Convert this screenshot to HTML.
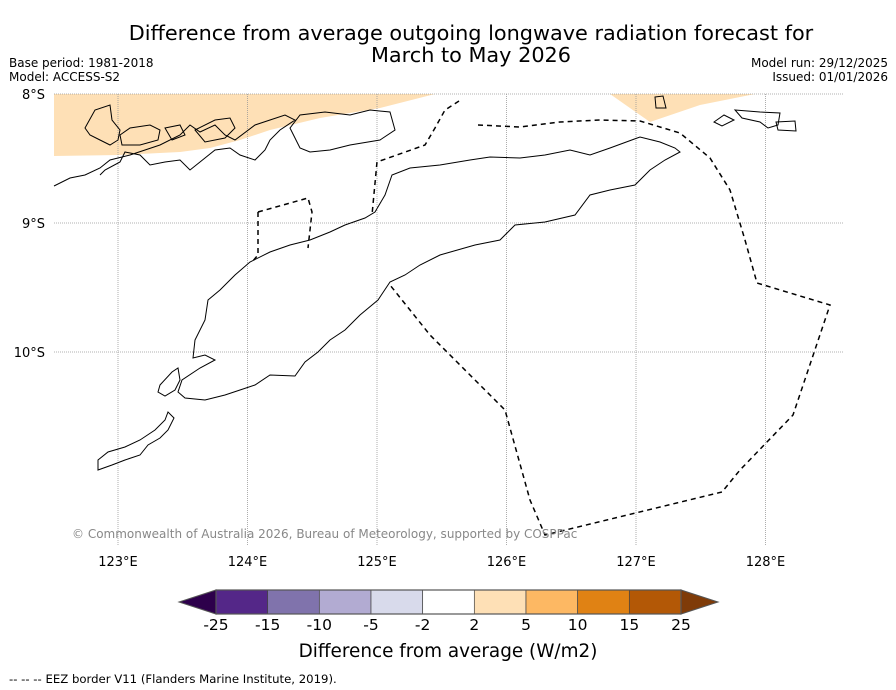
<!DOCTYPE html>
<html><head><meta charset="utf-8"><style>
body{margin:0;background:#fff;width:896px;height:690px;overflow:hidden;font-family:"DejaVu Sans","Liberation Sans",sans-serif}
svg{position:absolute;left:0;top:0}
</style></head><body>
<svg id="s" width="896" height="690" viewBox="0 0 896 690">
<text x="471" y="40" font-size="20.8" text-anchor="middle">Difference from average outgoing longwave radiation forecast for</text>
<text x="471" y="62" font-size="20.8" text-anchor="middle">March to May 2026</text>
<text x="9" y="67" font-size="12">Base period: 1981-2018</text>
<text x="9" y="81" font-size="12">Model: ACCESS-S2</text>
<text x="888" y="67" font-size="12" text-anchor="end">Model run: 29/12/2025</text>
<text x="888" y="81" font-size="12" text-anchor="end">Issued: 01/01/2026</text>
<g fill="#fee0b6">
<polygon points="54,94 435,94 380,108 320,118 270,130 240,140 210,148 180,152 120,155 54,156"/>
<polygon points="610,94 755,94 700,105 650,122"/>
</g>
<g id="grid" stroke="#999" stroke-width="0.8" stroke-dasharray="1,1"></g>
<g fill="none" stroke="#000" stroke-width="1">
<path d="M54,186 L70,178 L85,175 L100,168 L110,160 L130,155 L145,150 L160,145 L180,135 L190,125 L200,132 L215,125 L225,135 L235,140 L255,125 L270,120 L285,115 L295,120 L280,130 L270,140 L265,150 L255,160 L240,155 L230,148 L215,150 L200,162 L190,170 L180,160 L165,162 L150,165 L140,155 L125,152 L120,162 L105,170 L100,175"/>
<path d="M85,128 L95,110 L110,105 L112,120 L120,130 L118,140 L110,145 L100,140 L90,135 Z"/>
<path d="M120,135 L130,128 L150,125 L160,130 L158,140 L140,145 L122,145 Z"/>
<path d="M165,128 L180,125 L185,135 L172,140 Z"/>
<path d="M195,130 L215,120 L230,118 L235,128 L225,138 L205,142 Z"/>
<path d="M290,128 L300,115 L325,112 L350,115 L370,110 L390,112 L395,130 L380,140 L350,145 L330,150 L310,152 L300,148 Z"/>
<path d="M193,358 L195,340 L205,320 L208,300 L220,290 L235,275 L250,262 L270,252 L290,245 L310,240 L330,232 L345,225 L365,218 L375,212 L385,195 L392,175 L410,168 L440,165 L470,160 L490,157 L520,158 L545,155 L570,150 L590,155 L610,148 L640,137 L660,142 L675,148 L680,152 L665,160 L650,170 L635,185 L610,190 L590,195 L575,215 L545,222 L515,225 L500,240 L475,245 L440,255 L420,265 L405,275 L390,282 L378,300 L360,315 L345,330 L330,340 L318,352 L305,362 L295,376 L270,375 L255,385 L240,390 L225,395 L205,400 L185,398 L178,392 L182,380 L200,368 L215,360 L205,355 Z"/>
<path d="M160,385 L172,372 L178,368 L180,380 L175,390 L165,396 L158,392 Z"/>
<path d="M98,460 L108,452 L125,447 L140,440 L155,430 L165,420 L168,412 L174,418 L168,430 L160,438 L148,445 L140,455 L125,460 L112,465 L98,470 Z"/>
<path d="M655,97 L663,96 L666,108 L656,108 Z"/>
<path d="M714,122 L724,115 L734,120 L722,126 Z"/>
<path d="M735,110 L760,112 L780,113 L778,125 L768,128 L760,122 L742,118 Z"/>
<path d="M776,122 L795,121 L796,131 L778,130 Z"/>
</g>
<g fill="none" stroke="#000" stroke-width="1.5" stroke-dasharray="5,4">
<path d="M459,101 L445,110 L435,128 L425,145 L377,162 L372,215"/>
<path d="M478,125 L520,127 L560,122 L600,120 L640,121 L680,133 L710,158 L730,190 L745,240 L757,283 L830,305 L793,415 L740,470 L722,492 L545,535 L530,500 L505,410 L470,375 L430,335 L390,285"/>
<path d="M258,212 L308,198 L312,212 L308,248"/>
<path d="M258,212 L258,255 L252,262"/>
</g>
<g id="labels" font-size="13"></g>
<text x="72" y="538" font-size="12" fill="#888">© Commonwealth of Australia 2026, Bureau of Meteorology, supported by COSPPac</text>
<g id="cbar"></g>
<text x="448" y="657" font-size="18.4" text-anchor="middle">Difference from average (W/m2)</text>
<text x="9" y="683" font-size="11.7">--  --  -- EEZ border V11 (Flanders Marine Institute, 2019).</text>
</svg>
<script>
const lonTicks=[123,124,125,126,127,128];
const latTicks=[8,9,10];
const levels=["-25","-15","-10","-5","-2","2","5","10","15","25"];
const colors=["#542788","#8073ac","#b2abd2","#d8daeb","#ffffff","#fee0b6","#fdb863","#e08214","#b35806"];
const lowExt="#2d004b", highExt="#7f3b08";
const NS="http://www.w3.org/2000/svg";
const xLon=l=>118+(l-123)*129.5;
const yLat=l=>94+(l-8)*129;
function mk(t,a,p){const e=document.createElementNS(NS,t);for(const k in a)e.setAttribute(k,a[k]);p.appendChild(e);return e;}
const g=document.getElementById('grid'),lb=document.getElementById('labels');
lonTicks.forEach(l=>{
 const ln=mk('line',{x1:xLon(l),x2:xLon(l),y1:94,y2:545},g);
 
 
 const t=mk('text',{x:xLon(l),y:566,'text-anchor':'middle'},lb);t.textContent=l+'°E';
 
 
});
latTicks.forEach(l=>{
 const ln=mk('line',{x1:54,x2:843,y1:yLat(l),y2:yLat(l)},g);
 
 
 const t=mk('text',{x:45,y:yLat(l)+5,'text-anchor':'end'},lb);t.textContent=l+'°S';
 
 
});
const cb=document.getElementById('cbar');
const x0=216,x1=681,y0=590,h=24,w=(x1-x0)/colors.length;
const le=mk('polygon',{points:`${x0},${y0} ${x0},${y0+h} 179,${y0+h/2}`,fill:lowExt,stroke:'#555'},cb);


const he=mk('polygon',{points:`${x1},${y0} ${x1},${y0+h} 718,${y0+h/2}`,fill:highExt,stroke:'#555'},cb);


colors.forEach((c,i)=>{
 const r=mk('rect',{x:x0+i*w,y:y0,width:w,height:h,fill:c,stroke:'#444','stroke-width':0.7},cb);
 
 
});
mk('rect',{x:x0,y:y0,width:x1-x0,height:h,fill:'none',stroke:'#555','stroke-width':1.2},cb);
levels.forEach((v,i)=>{
 const t=mk('text',{x:x0+i*w,y:630,'text-anchor':'middle','font-size':15.5},cb);t.textContent=v;
 
 
});
</script>
</body></html>
